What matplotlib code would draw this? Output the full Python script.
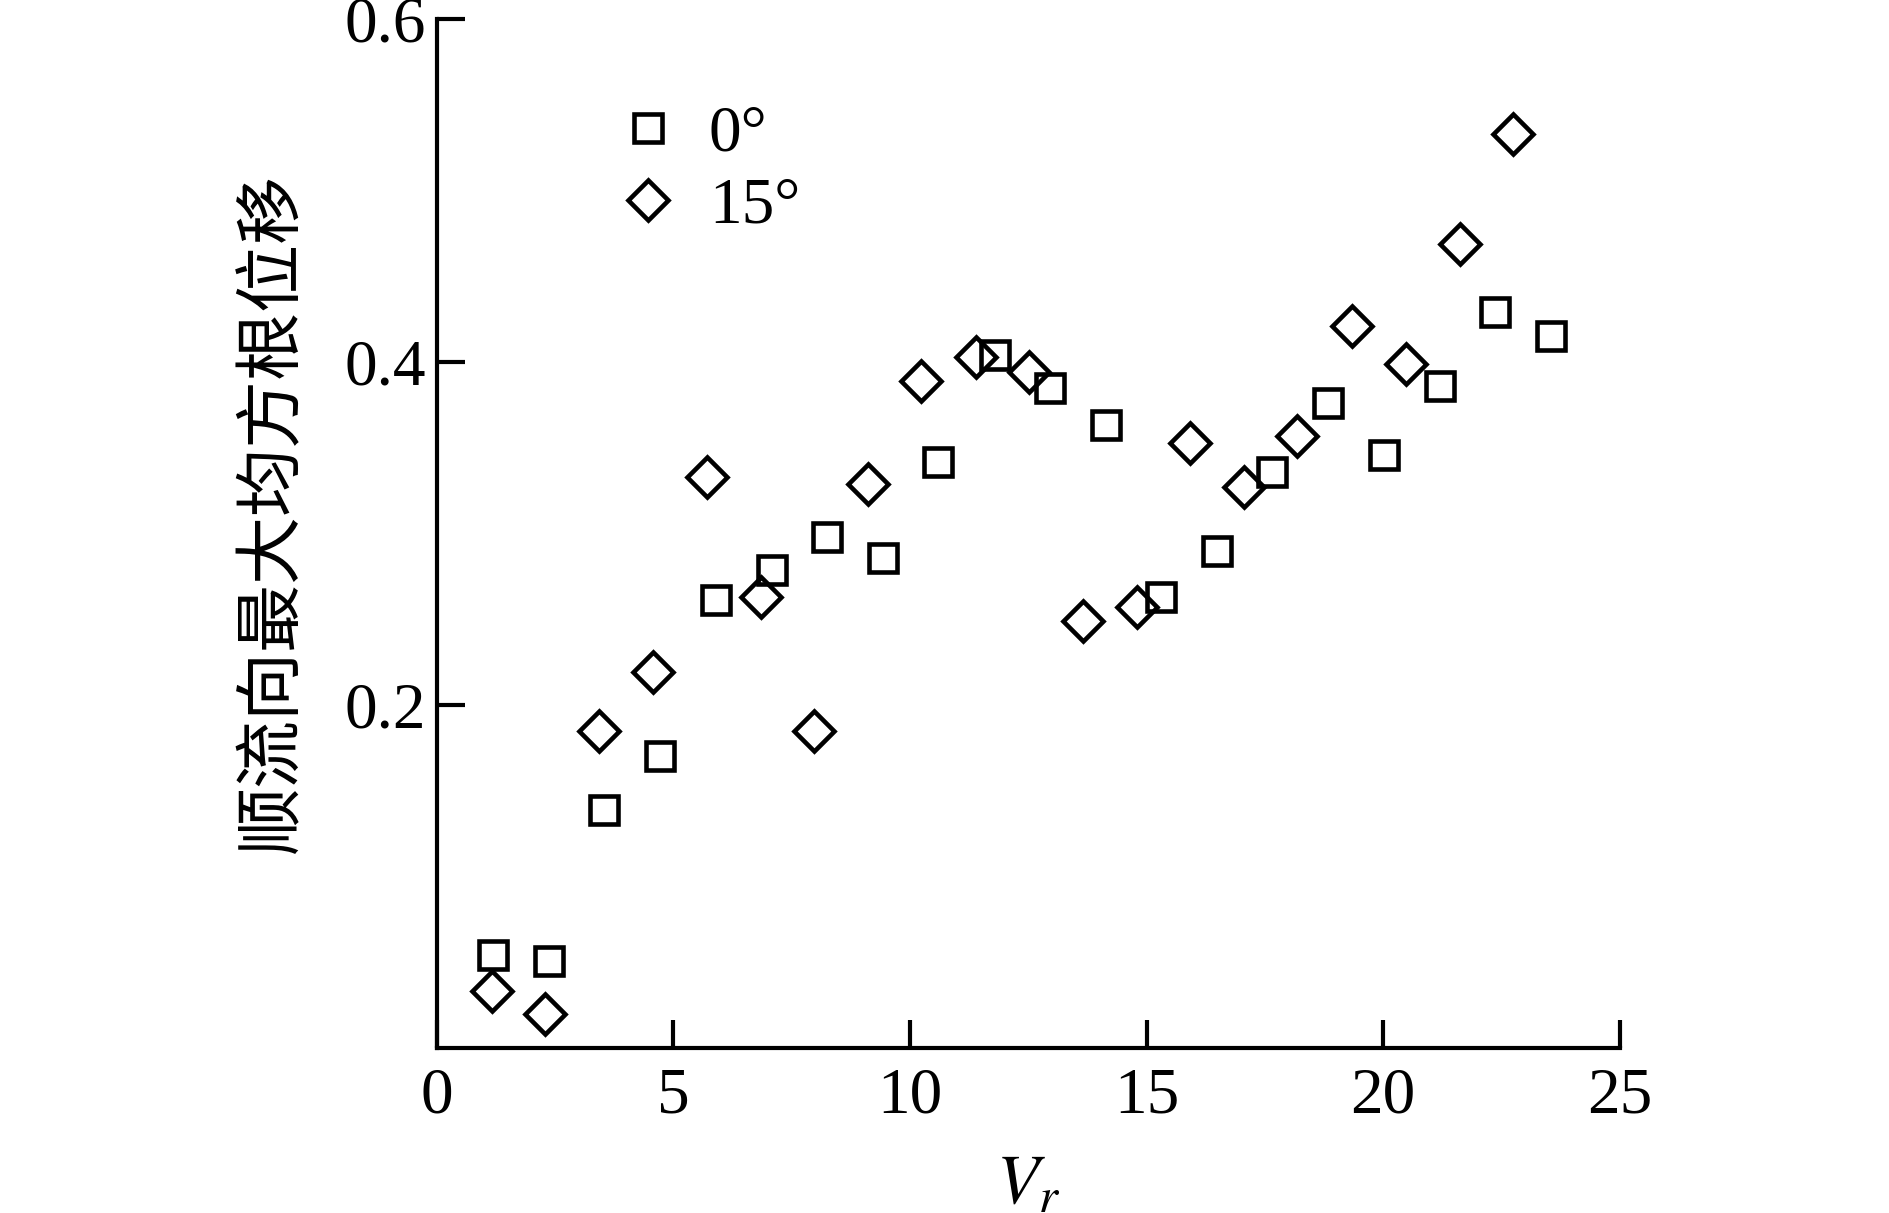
import matplotlib
matplotlib.use('Agg')
import matplotlib.pyplot as plt

# Data
vr_0 = [1.18, 2.37, 3.53, 4.71, 5.89, 7.08, 8.24, 9.43, 10.60, 11.79,
        12.95, 14.14, 15.30, 16.48, 17.66, 18.83, 20.02, 21.20, 22.37, 23.55]
rms_0 = [0.054, 0.051, 0.139, 0.170, 0.261, 0.279, 0.298, 0.286, 0.342, 0.404,
         0.385, 0.363, 0.263, 0.290, 0.336, 0.376, 0.346, 0.386, 0.429, 0.415]
vr_15 = [1.16, 2.28, 3.43, 4.57, 5.71, 6.84, 7.98, 9.11, 10.24, 11.39,
         12.52, 13.66, 14.79, 15.92, 17.06, 18.19, 19.34, 20.49, 21.62, 22.75]
rms_15 = [0.033, 0.020, 0.185, 0.219, 0.333, 0.263, 0.185, 0.329, 0.389, 0.403,
          0.394, 0.249, 0.257, 0.353, 0.327, 0.357, 0.421, 0.399, 0.469, 0.533]
labels = ['0°', '15°']
xticks = [0, 5, 10, 15, 20, 25]
yticks = [0.2, 0.4, 0.6]
ytick_labels = ['0.2', '0.4', '0.6']
ylabel = '顺流向最大均方根位移'

plt.rcParams['font.family'] = ['Liberation Serif', 'DejaVu Serif']
plt.rcParams['mathtext.fontset'] = 'stix'

fig = plt.figure(figsize=(18.89, 12.13), dpi=100)
ax = fig.add_axes([0.2313, 0.1360, 0.6261, 0.8483])

ax.plot(vr_0, rms_0, linestyle='none', marker='s', markersize=19.5,
        markerfacecolor='none', markeredgecolor='black', markeredgewidth=3.3,
        label=labels[0], clip_on=False)
ax.plot(vr_15, rms_15, linestyle='none', marker='D', markersize=20,
        markerfacecolor='none', markeredgecolor='black', markeredgewidth=3.3,
        label=labels[1], clip_on=False)

ax.set_xlim(0, 25)
ax.set_ylim(0, 0.6)
ax.set_xticks(xticks)
ax.set_xticklabels([str(t) for t in xticks])
ax.set_yticks(yticks)
ax.set_yticklabels(ytick_labels)

for s in ['top', 'right']:
    ax.spines[s].set_visible(False)
for s in ['left', 'bottom']:
    ax.spines[s].set_linewidth(3)

ax.tick_params(axis='both', direction='in', length=20, width=3,
               labelsize=47, colors='black')
ax.tick_params(axis='x', pad=14)
ax.tick_params(axis='y', pad=8)

ax.set_xlabel(r'$V_r$', fontsize=50, labelpad=20)
ax.set_ylabel(ylabel, fontsize=49, family=['Noto Sans CJK SC', 'DejaVu Sans'])
ax.yaxis.set_label_coords(-0.109, 0.52)

leg = ax.legend(loc='upper left', bbox_to_anchor=(0.129, 0.942), frameon=False,
                fontsize=47, handletextpad=0.43, labelspacing=0.19,
                handlelength=1.0, borderaxespad=0)

fig.savefig('out.png', dpi=100)
